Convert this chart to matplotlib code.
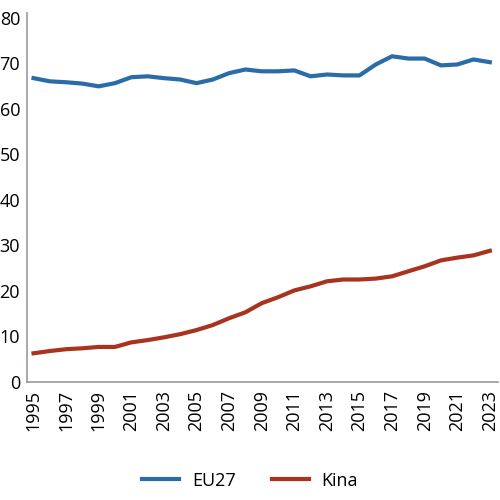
import matplotlib
matplotlib.use('Agg')
import matplotlib.pyplot as plt

years = list(range(1995, 2024))
eu27 = [66.7, 66.0, 65.8, 65.5, 64.9, 65.6, 66.9, 67.1, 66.7, 66.4,
        65.6, 66.4, 67.8, 68.6, 68.2, 68.2, 68.4, 67.1, 67.5, 67.3,
        67.3, 69.7, 71.5, 71.0, 71.0, 69.5, 69.7, 70.8, 70.2]
kina = [6.3, 6.8, 7.2, 7.4, 7.7, 7.7, 8.7, 9.2, 9.8, 10.5,
        11.4, 12.5, 14.0, 15.3, 17.3, 18.6, 20.1, 21.0, 22.1, 22.5,
        22.5, 22.7, 23.2, 24.3, 25.4, 26.7, 27.3, 27.8, 28.8]

plt.rcParams['font.family'] = ['Open Sans', 'DejaVu Sans']

fig = plt.figure(figsize=(5, 5), dpi=100)
ax = fig.add_axes([0.054, 0.236, 0.942, 0.738])

ax.plot(years, eu27, color='#2a6ca8', lw=3, label='EU27')
ax.plot(years, kina, color='#a8341f', lw=3, label='Kina')

ax.set_xlim(1994.6, 2023.5)
ax.set_ylim(0, 81)
ax.set_yticks(range(0, 81, 10))
ax.set_xticks(years[::2])
ax.set_xticklabels([str(y) for y in years[::2]], rotation=90)
ax.tick_params(length=0, labelsize=13, pad=6)
ax.tick_params(axis='y', pad=5)

for s in ['top', 'right']:
    ax.spines[s].set_visible(False)
for s in ['left', 'bottom']:
    ax.spines[s].set_color('#999999')
    ax.spines[s].set_linewidth(1.2)

fig.legend(loc='lower center', ncol=2, frameon=False, fontsize=13,
           bbox_to_anchor=(0.5, -0.012), handlelength=2.05,
           handletextpad=0.7, columnspacing=2.0)

fig.savefig('out.png', dpi=100)
